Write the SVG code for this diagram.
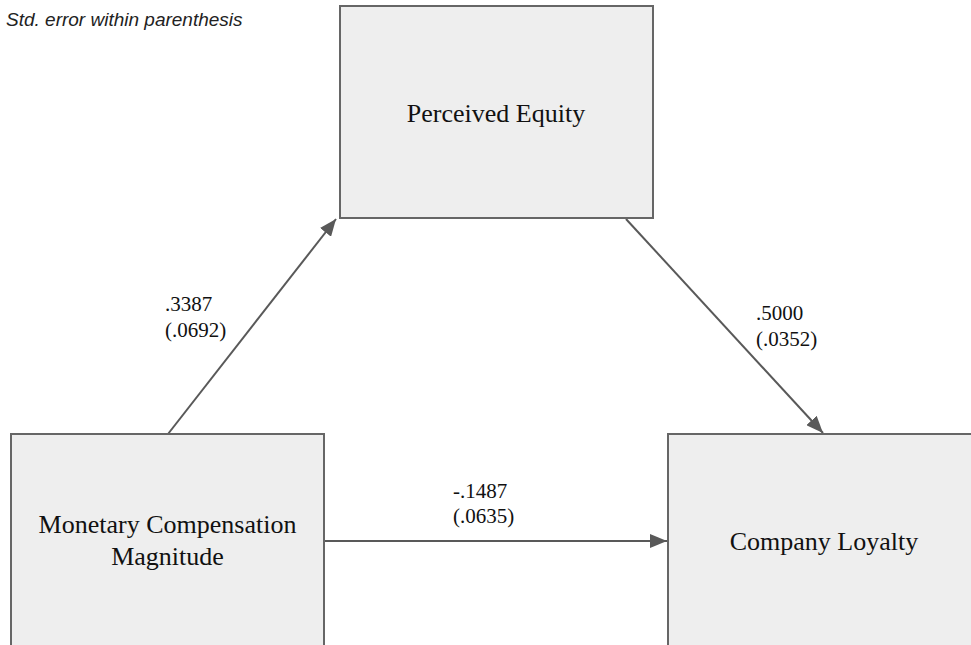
<svg xmlns="http://www.w3.org/2000/svg" width="971" height="645" viewBox="0 0 971 645">
<defs>
<style>
.box{fill:#eeeeee;stroke:#666666;stroke-width:2}
.lbl{font-family:"Liberation Serif","Times New Roman",serif;fill:#111111}
.node{font-size:26px;text-anchor:middle}
.num{font-size:21px}
.conn{stroke:#595959;stroke-width:2;fill:none;marker-end:url(#ah)}
.note{font-family:"Liberation Sans",Arial,sans-serif;font-style:italic;font-size:19px;fill:#222222}
</style>
<marker id="ah" markerUnits="userSpaceOnUse" markerWidth="18" markerHeight="14" refX="17" refY="7" orient="auto">
<path d="M0,0 L17,7 L0,14 Z" fill="#595959"/>
</marker>
</defs>
<rect width="971" height="645" fill="#ffffff"/>
<text class="note" x="6" y="26">Std. error within parenthesis</text>
<g id="connectors">
<line class="conn" x1="168" y1="434" x2="336" y2="219"/>
<line class="conn" x1="626" y1="219" x2="823" y2="433"/>
<line class="conn" x1="325" y1="541" x2="667" y2="541"/>
</g>
<g id="node-perceived-equity">
<rect class="box" x="340" y="6" width="313" height="212"/>
<text class="lbl node" x="496" y="122">Perceived Equity</text>
</g>
<g id="node-monetary-compensation">
<rect class="box" x="11" y="434" width="313" height="213"/>
<text class="lbl node" x="167.5" y="533">Monetary Compensation</text>
<text class="lbl node" x="167.5" y="565">Magnitude</text>
</g>
<g id="node-company-loyalty">
<rect class="box" x="668" y="434" width="313" height="213"/>
<text class="lbl node" x="824" y="550">Company Loyalty</text>
</g>
<g id="labels">
<text class="lbl num" x="165" y="311">.3387</text>
<text class="lbl num" x="165" y="337">(.0692)</text>
<text class="lbl num" x="756" y="320">.5000</text>
<text class="lbl num" x="756" y="346">(.0352)</text>
<text class="lbl num" x="453" y="498">-.1487</text>
<text class="lbl num" x="453" y="523">(.0635)</text>
</g>
</svg>
